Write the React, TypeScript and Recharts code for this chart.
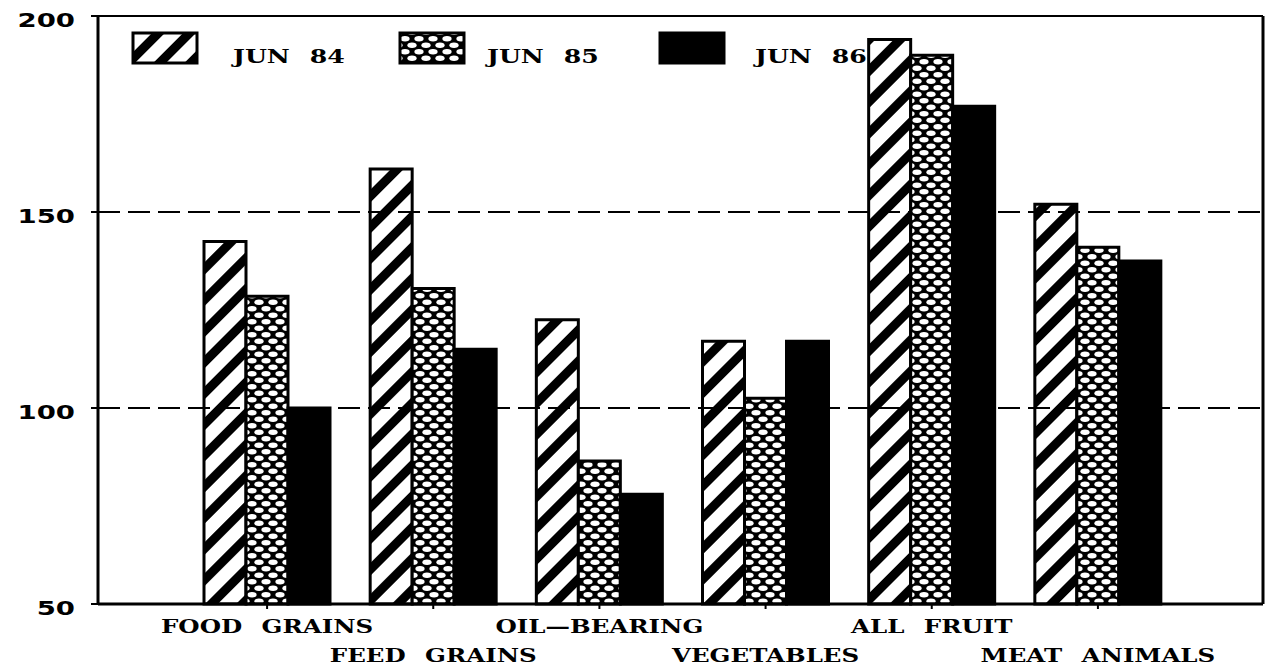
import React from "react";
import {
  BarChart,
  Bar,
  XAxis,
  YAxis,
  CartesianGrid,
  ReferenceLine,
  Legend,
} from "recharts";

const categories = [
  "FOOD GRAINS",
  "FEED GRAINS",
  "OIL\u2014BEARING",
  "VEGETABLES",
  "ALL FRUIT",
  "MEAT ANIMALS",
];
const jun84 = [142.5, 161, 122.5, 117, 194, 152];
const jun85 = [128.5, 130.5, 86.5, 102.5, 190, 141];
const jun86 = [100, 115, 78, 117, 177, 137.5];
const yTicks = [50, 100, 150, 200];

const seriesNames = ["JUN 84", "JUN 85", "JUN 86"];

const data = categories.map((name, i) => ({
  name,
  jun84: jun84[i],
  jun85: jun85[i],
  jun86: jun86[i],
}));

const serif = "'DejaVu Serif', serif";
const sans = "'DejaVu Sans', sans-serif";

function YTick(props: any) {
  const { x, y, payload } = props;
  return (
    <text
      transform={`translate(${x - 14}, ${y + 11}) scale(1.45, 1)`}
      textAnchor="end"
      fontFamily={sans}
      fontWeight="bold"
      fontSize={19}
      fill="#000"
    >
      {payload.value}
    </text>
  );
}

function XTick(props: any) {
  const { x, y, payload, index } = props;
  const dy = index % 2 === 0 ? 22 : 51;
  return (
    <text
      transform={`translate(${x}, ${y + dy}) scale(1.36, 1)`}
      textAnchor="middle"
      fontFamily={serif}
      fontWeight="bold"
      fontSize={18}
      wordSpacing={8}
      fill="#000"
    >
      {payload.value}
    </text>
  );
}

const legendItems = [
  { fill: "url(#hatch)", box: 133, text: 233 },
  { fill: "url(#weave)", box: 400, text: 487 },
  { fill: "#000", box: 660, text: 755 },
];

function LegendBox() {
  return (
    <svg width={900} height={50} style={{ display: "block" }}>
      {legendItems.map((it, i) => (
        <g key={seriesNames[i]}>
          <rect
            x={it.box - 125}
            y={4}
            width={64}
            height={30}
            fill={it.fill}
            stroke="#000"
            strokeWidth={3}
          />
          <text
            transform={`translate(${it.text - 125}, 34) scale(1.4, 1)`}
            fontFamily={serif}
            fontWeight="bold"
            fontSize={18}
            wordSpacing={8}
            fill="#000"
          >
            {seriesNames[i]}
          </text>
        </g>
      ))}
    </svg>
  );
}

export default function App() {
  return (
    <div style={{ position: "absolute", left: 0, top: 0, background: "#fff" }}>
      <BarChart
        width={1273}
        height={668}
        data={data}
        margin={{ top: 16, right: 5, bottom: 0, left: 0 }}
        barSize={42}
        barGap={0}
      >
        <defs>
          <pattern
            id="hatch"
            patternUnits="userSpaceOnUse"
            width={22}
            height={22}
            patternTransform="rotate(45)"
          >
            <rect x={0} y={0} width={9} height={22} fill="#000" />
          </pattern>
          <pattern id="weave" patternUnits="userSpaceOnUse" width={14} height={13}>
            <rect x={0} y={0} width={14} height={13} fill="#000" />
            <ellipse cx={7} cy={3.25} rx={4.6} ry={2.7} fill="#fff" />
            <ellipse cx={0} cy={9.75} rx={4.6} ry={2.7} fill="#fff" />
            <ellipse cx={14} cy={9.75} rx={4.6} ry={2.7} fill="#fff" />
          </pattern>
        </defs>
        <CartesianGrid
          vertical={false}
          stroke="#000"
          strokeWidth={2}
          strokeDasharray="22 8"
        />
        <XAxis
          dataKey="name"
          height={64}
          padding={{ left: 86, right: 82 }}
          axisLine={{ stroke: "#000", strokeWidth: 3 }}
          tickLine={{ stroke: "#000", strokeWidth: 2 }}
          tickSize={5}
          tick={<XTick />}
          interval={0}
        />
        <YAxis
          domain={[50, 200]}
          ticks={yTicks}
          width={98}
          axisLine={{ stroke: "#000", strokeWidth: 3 }}
          tickLine={{ stroke: "#000", strokeWidth: 2 }}
          tickSize={7}
          tick={<YTick />}
        />
        <YAxis
          yAxisId="right"
          orientation="right"
          domain={[50, 200]}
          width={5}
          tick={false}
          tickLine={false}
          axisLine={{ stroke: "#000", strokeWidth: 3 }}
        />
        <ReferenceLine y={200} stroke="#000" strokeWidth={2} />
        <Legend
          layout="horizontal"
          verticalAlign="middle"
          align="center"
          wrapperStyle={{ top: 29, left: 125, width: 900 }}
          content={() => <LegendBox />}
        />
        <Bar
          dataKey="jun84"
          name="JUN 84"
          fill="url(#hatch)"
          stroke="#000"
          strokeWidth={3}
          isAnimationActive={false}
        />
        <Bar
          dataKey="jun85"
          name="JUN 85"
          fill="url(#weave)"
          stroke="#000"
          strokeWidth={3}
          isAnimationActive={false}
        />
        <Bar
          dataKey="jun86"
          name="JUN 86"
          fill="#000"
          stroke="#000"
          strokeWidth={3}
          isAnimationActive={false}
        />
      </BarChart>
    </div>
  );
}
